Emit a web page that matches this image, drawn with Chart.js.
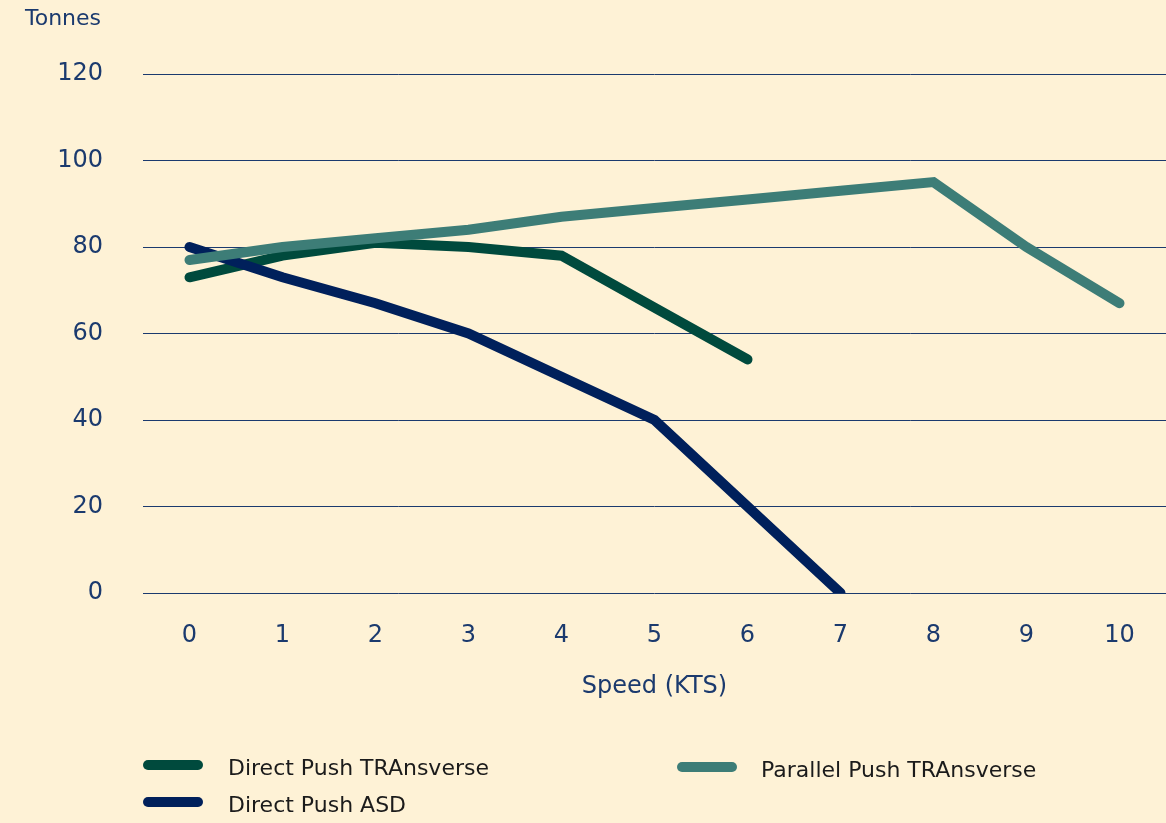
<!DOCTYPE html>
<html>
<head>
<meta charset="utf-8">
<script src="https://cdn.jsdelivr.net/npm/chart.js@4"></script>
<style>
  html, body { margin: 0; padding: 0; background: #fef2d6; }
  #wrap { position: relative; width: 1166px; height: 823px; }
  canvas { position: absolute; left: 0; top: 0; }
  .lg { position: absolute; font-family: "DejaVu Sans", sans-serif; font-size: 22px; color: #1b1b1b; white-space: nowrap; line-height: 26px; }
  .sw { position: absolute; width: 60px; height: 10px; border-radius: 5px; }
</style>
</head>
<body>
<div id="wrap">
  <canvas id="c" width="1166" height="823"></canvas>
  <div class="sw" style="left:143px; top:760px; background:#004a3d;"></div>
  <div class="lg" style="left:228px; top:755px;">Direct Push TRAnsverse</div>
  <div class="sw" style="left:143px; top:797px; background:#00205b;"></div>
  <div class="lg" style="left:228px; top:792px;">Direct Push ASD</div>
  <div class="sw" style="left:677px; top:762px; background:#3d7d77;"></div>
  <div class="lg" style="left:761px; top:757px;">Parallel Push TRAnsverse</div>
</div>
<script>
const speeds = ['0','1','2','3','4','5','6','7','8','9','10'];
const directPushTransverse = [73, 78, 81, 80, 78, 66, 54, null, null, null, null];
const parallelPushTransverse = [77, 80, 82, 84, 87, 89, 91, 93, 95, 80, 67];
const directPushASD = [80, 73, 67, 60, 50, 40, 20, 0, null, null, null];
const yTicks = [0, 20, 40, 60, 80, 100, 120];

const AXIS_COLOR = '#1b3a6e';
const FONT = '"DejaVu Sans", sans-serif';

const tonnesPlugin = {
  id: 'tonnes',
  afterDraw(chart) {
    const ctx = chart.ctx;
    ctx.save();
    ctx.font = '22px ' + FONT;
    ctx.fillStyle = AXIS_COLOR;
    ctx.textAlign = 'left';
    ctx.textBaseline = 'middle';
    ctx.fillText('Tonnes', 25, 19);
    ctx.restore();
  }
};

const bgPlugin = {
  id: 'bg',
  beforeDraw(chart) {
    const ctx = chart.ctx;
    ctx.save();
    ctx.fillStyle = '#fef2d6';
    ctx.fillRect(0, 0, chart.width, chart.height);
    ctx.restore();
  }
};

const lineStyle = {
  borderWidth: 10,
  borderCapStyle: 'round',
  borderJoinStyle: 'miter',
  pointRadius: 0,
  pointHoverRadius: 0,
  tension: 0,
  fill: false,
  spanGaps: false
};

new Chart(document.getElementById('c'), {
  type: 'line',
  data: {
    labels: speeds,
    datasets: [
      Object.assign({ label: 'Direct Push TRAnsverse', data: directPushTransverse, borderColor: '#004a3d', backgroundColor: '#004a3d', order: 2 }, lineStyle),
      Object.assign({ label: 'Parallel Push TRAnsverse', data: parallelPushTransverse, borderColor: '#3d7d77', backgroundColor: '#3d7d77', order: 0 }, lineStyle),
      Object.assign({ label: 'Direct Push ASD', data: directPushASD, borderColor: '#00205b', backgroundColor: '#00205b', order: 1 }, lineStyle)
    ]
  },
  options: {
    responsive: false,
    animation: false,
    layout: { padding: { top: 74, right: 0, bottom: 0, left: 0 } },
    plugins: { legend: { display: false }, tooltip: { enabled: false } },
    scales: {
      x: {
        type: 'category',
        offset: true,
        grid: { display: false },
        border: { display: false },
        ticks: { color: AXIS_COLOR, font: { family: FONT, size: 24 }, padding: 20, maxRotation: 0 },
        title: { display: true, text: 'Speed (KTS)', color: AXIS_COLOR, font: { family: FONT, size: 24 }, padding: { top: 0, bottom: 122 } },
        afterFit(scale) { scale.height = 230; }
      },
      y: {
        min: 0,
        max: 120,
        afterBuildTicks(scale) { scale.ticks = yTicks.map(v => ({ value: v })); },
        grid: { color: AXIS_COLOR, lineWidth: 1, drawTicks: false },
        border: { display: false },
        ticks: { color: AXIS_COLOR, font: { family: FONT, size: 24 }, padding: 40 },
        afterFit(scale) { scale.width = 143; }
      }
    }
  },
  plugins: [bgPlugin, tonnesPlugin]
});
</script>
</body>
</html>
